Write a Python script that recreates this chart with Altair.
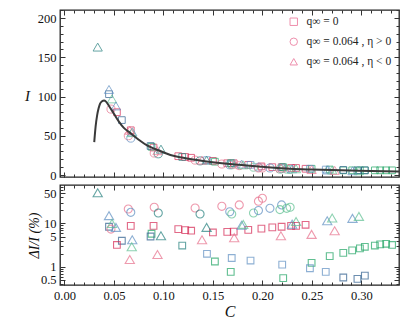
import altair as alt
import pandas as pd

FONT = "Liberation Serif"

# ---------------- model curve ----------------
curve_C = [0.0301, 0.0315, 0.033, 0.0345, 0.036, 0.038, 0.040, 0.042, 0.045, 0.050,
           0.055, 0.060, 0.066, 0.075, 0.083, 0.090, 0.100, 0.107, 0.120, 0.140,
           0.167, 0.200, 0.228, 0.250, 0.280, 0.310, 0.338]
curve_I = [42, 62, 76, 85, 91, 94, 95, 93.5, 88, 78,
           68, 60, 54, 45, 38, 34, 29, 25.5, 22, 18,
           14, 10.5, 8, 7, 6, 5.3, 4.6]

# ---------------- squares: q_inf = 0 ----------------
sq_C = [0.045, 0.058, 0.053, 0.067, 0.090, 0.088, 0.087, 0.115, 0.122, 0.128,
        0.119, 0.144, 0.150, 0.152, 0.1645, 0.171, 0.169, 0.168, 0.1857, 0.188,
        0.199, 0.210, 0.2194, 0.220, 0.221, 0.229, 0.234, 0.2436, 0.2497, 0.248,
        0.268, 0.264, 0.2817, 0.2907, 0.2985, 0.3035, 0.3136, 0.319, 0.325, 0.331,
        0.2817, 0.296, 0.3035]
sq_I = [103, 70, 80, 57, 35, 36, 37, 24, 23, 22,
        23, 19, 18, 17, 15, 15, 15, 15, 13, 13,
        11, 10, 10, 10, 10, 9, 9, 8, 8, 8,
        7, 7, 6, 6, 6, 6, 6, 6, 6, 6,
        6.5, 6, 6]
sq_dI = [8.4, 4.0, 3.2, 8.8, 8.8, 5.8, 5.0, 7.4, 7.0, 6.8,
         3.1, 2.0, 6.2, 1.33, 6.4, 6.5, 1.6, 0.77, 7.1, 1.4,
         7.6, 8.1, 8.4, 1.13, 0.55, 8.8, 8.8, 9.3, 1.24, 0.93,
         1.77, 0.77, 2.1, 2.4, 2.67, 2.9, 3.1, 3.3, 3.4, 3.2,
         0.57, 0.53, 0.63]
sq_col = ["dblue", "dblue", "red", "red", "red", "green", "dblue", "red", "red", "red",
          "teal", "blue", "red", "green", "red", "red", "blue", "green", "red", "blue",
          "red", "red", "red", "blue", "green", "red", "red", "red", "green", "blue",
          "green", "blue", "green", "green", "green", "green", "green", "green", "green", "green",
          "dblue", "dblue", "dblue"]

# ---------------- circles: q_inf = 0.064, eta > 0 ----------------
ci_C = [0.047, 0.0645, 0.067, 0.0907, 0.0948, 0.132, 0.137, 0.159, 0.167, 0.169,
        0.1766, 0.191, 0.196, 0.196, 0.200, 0.2076, 0.2194, 0.2177, 0.2245, 0.228]
ci_I = [84, 50, 47, 28, 27, 19, 18, 14, 13, 13,
        12, 10, 10, 9, 9, 9, 8, 7.5, 7.5, 7]
ci_dI = [7.4, 21.5, 18, 23.6, 17.4, 22.7, 16.5, 24.8, 18.6, 16.5,
         26.7, 17.4, 19.8, 32.5, 38, 22.3, 26.7, 20.8, 22.3, 23.6]
ci_col = ["pink", "pink", "blue", "pink", "teal", "pink", "teal", "pink", "blue", "lgreen",
          "pink", "lgreen", "blue", "pink", "pink", "blue", "blue", "lgreen", "lgreen", "lgreen"]

# ---------------- triangles: q_inf = 0.064, eta < 0 ----------------
tr_C = [0.0336, 0.045, 0.048, 0.052, 0.0685, 0.068, 0.066, 0.0975, 0.094, 0.1436,
        0.139, 0.1715, 0.179, 0.1806, 0.2187, 0.230, 0.234, 0.2497, 0.2655, 0.2705,
        0.273, 0.291, 0.2975]
tr_I = [163, 109, 97, 88, 55, 54, 57, 33, 31, 19,
        19, 14, 14, 13, 9, 8, 8, 7, 6.5, 6.5,
        6, 5.5, 5.5]
tr_dI = [50.7, 15.1, 10, 8.1, 4.2, 2.9, 1.48, 5.2, 1.93, 8.1,
         4.2, 4.7, 9.1, 9.5, 5.2, 9.6, 11.1, 5.6, 11.5, 13.3,
         6.8, 13.1, 14.5]
tr_col = ["teal", "blue", "lgreen", "blue", "blue", "lgreen", "pink", "teal", "pink", "teal",
          "pink", "pink", "blue", "lgreen", "pink", "blue", "lgreen", "pink", "blue", "lgreen",
          "pink", "blue", "lgreen"]

SERIES = ["q\u221e = 0", "q\u221e = 0.064 , \u03b7 > 0", "q\u221e = 0.064 , \u03b7 < 0"]
SHAPES = ["square", "circle", "triangle-up"]
SIZES = [45, 85, 50]
COL_KEYS = ["red", "pink", "blue", "dblue", "teal", "green", "lgreen"]
COL_HEX = ["#d62a55", "#e8708c", "#5f8fc2", "#2f5f8e", "#25807e", "#1fa463", "#5fc092"]

X_TICKS = [0.0, 0.05, 0.10, 0.15, 0.20, 0.25, 0.30]
X_MINOR = [round(0.01 * i, 2) for i in range(0, 34)]
TOP_TICKS = [0, 50, 100, 150, 200]
TOP_MINOR = list(range(0, 211, 10))
BOT_TICKS = [0.5, 1, 5, 10, 50]
BOT_MINOR = [0.4, 0.6, 0.7, 0.8, 0.9, 2, 3, 4, 6, 7, 8, 9, 20, 30, 40, 60, 70]

X_DOM = [-0.0045, 0.338]
TOP_DOM = [-2.5, 210.2]
BOT_DOM = [0.383, 76.7]
W, H1, H2 = 339, 167, 100

rows = []
for s, Cs, Is, ds, cs in [(SERIES[0], sq_C, sq_I, sq_dI, sq_col),
                          (SERIES[1], ci_C, ci_I, ci_dI, ci_col),
                          (SERIES[2], tr_C, tr_I, tr_dI, tr_col)]:
    for c, i, d, col in zip(Cs, Is, ds, cs):
        rows.append({"C": c, "I": i, "dI": d, "series": s, "col": col})
df = pd.DataFrame(rows)
curve_df = pd.DataFrame({"C": curve_C, "I": curve_I})


def axis(orient, values, size, labels=False, **kw):
    return alt.Axis(orient=orient, values=values, tickSize=size, offset=-size,
                    domain=False, grid=False, labels=labels, ticks=True,
                    tickColor="#333333", tickWidth=1, labelFont=FONT,
                    labelFontSize=12.5, labelColor="#111111", labelPadding=4,
                    titleFont=FONT, titleFontWeight="normal", titleColor="#111111",
                    **kw)


def sx():
    return alt.Scale(domain=X_DOM, nice=False, zero=False)


def sy_top():
    return alt.Scale(domain=TOP_DOM, nice=False, zero=False)


def sy_bot():
    return alt.Scale(type="log", domain=BOT_DOM, nice=False)


shape_enc_legend = alt.Shape(
    "series:N", scale=alt.Scale(domain=SERIES, range=SHAPES),
    legend=alt.Legend(orient="none", legendX=228, legendY=6, title=None,
                      labelFont=FONT, labelFontSize=11.5, labelColor="#222222",
                      symbolStrokeColor="#e8608a", symbolFillColor="transparent",
                      symbolSize=55, symbolStrokeWidth=1, rowPadding=7,
                      labelOffset=7, padding=0))
shape_enc_plain = alt.Shape("series:N", scale=alt.Scale(domain=SERIES, range=SHAPES), legend=None)
color_enc = alt.Color("col:N", scale=alt.Scale(domain=COL_KEYS, range=COL_HEX), legend=None)
size_enc = alt.Size("series:N", scale=alt.Scale(domain=SERIES, range=SIZES), legend=None)

# ---------------- top panel ----------------
pts_top = alt.Chart(df).mark_point(filled=False, strokeWidth=1, clip=True).encode(
    x=alt.X("C:Q", scale=sx(), axis=axis("bottom", X_MINOR, 3, title=None)),
    y=alt.Y("I:Q", scale=sy_top(), axis=axis("left", TOP_MINOR, 3, title=None)),
    shape=shape_enc_legend, color=color_enc, size=size_enc)

curve = alt.Chart(curve_df).mark_line(color="#3a3a3a", strokeWidth=2, clip=True,
                                      interpolate="monotone").encode(
    x=alt.X("C:Q", scale=sx(), axis=axis("bottom", X_TICKS, 5, title=None)),
    y=alt.Y("I:Q", scale=sy_top(), axis=axis(
        "left", TOP_TICKS, 5, labels=True, title="I", titleFontStyle="italic",
        titleFontSize=15, titleAngle=0, titleX=-38, titleY=85,
        titleAlign="center", titleBaseline="middle")))

top_maj = alt.Chart(curve_df).mark_point(opacity=0).encode(
    x=alt.X("C:Q", scale=sx(), axis=axis("top", X_TICKS, 5, title=None)),
    y=alt.Y("I:Q", scale=sy_top(), axis=axis("right", TOP_TICKS, 5, title=None)))
top_min = alt.Chart(curve_df).mark_point(opacity=0).encode(
    x=alt.X("C:Q", scale=sx(), axis=axis("top", X_MINOR, 3, title=None)),
    y=alt.Y("I:Q", scale=sy_top(), axis=axis("right", TOP_MINOR, 3, title=None)))

top = alt.layer(pts_top, curve, top_maj, top_min).resolve_axis(
    x="independent", y="independent").properties(width=W, height=H1)

# ---------------- bottom panel ----------------
pts_bot = alt.Chart(df).mark_point(filled=False, strokeWidth=1.1, clip=True).encode(
    x=alt.X("C:Q", scale=sx(), axis=axis(
        "bottom", X_TICKS, 5, labels=True, title="C", titleFontStyle="italic",
        titleFontSize=16, titlePadding=2, format=".2f")),
    y=alt.Y("dI:Q", scale=sy_bot(), axis=axis(
        "left", BOT_TICKS, 5, labels=True, format="~g", title="\u0394I/I (%)",
        titleFontStyle="italic", titleFontSize=14, titleAngle=270, titleX=-31,
        titleY=50, titleAlign="center", titleBaseline="middle")),
    shape=shape_enc_plain, color=color_enc, size=size_enc)

bot_min = alt.Chart(df).mark_point(opacity=0).encode(
    x=alt.X("C:Q", scale=sx(), axis=axis("bottom", X_MINOR, 3, title=None)),
    y=alt.Y("dI:Q", scale=sy_bot(), axis=axis("left", BOT_MINOR, 3, title=None)))
bot_maj_r = alt.Chart(df).mark_point(opacity=0).encode(
    x=alt.X("C:Q", scale=sx(), axis=axis("top", X_TICKS, 5, title=None)),
    y=alt.Y("dI:Q", scale=sy_bot(), axis=axis("right", BOT_TICKS, 5, title=None)))
bot_min_r = alt.Chart(df).mark_point(opacity=0).encode(
    x=alt.X("C:Q", scale=sx(), axis=axis("top", X_MINOR, 3, title=None)),
    y=alt.Y("dI:Q", scale=sy_bot(), axis=axis("right", BOT_MINOR, 3, title=None)))

bottom = alt.layer(pts_bot, bot_min, bot_maj_r, bot_min_r).resolve_axis(
    x="independent", y="independent").properties(width=W, height=H2)

chart = alt.vconcat(top, bottom, spacing=8, bounds="flush").resolve_scale(
    x="independent", y="independent").resolve_legend(
    shape="independent").properties(
    padding={"left": 15, "top": 0, "right": 0, "bottom": 0},
    background="white").configure_view(stroke="#222222", strokeWidth=1.3)

chart.save("out.html", embed_options={"renderer": "svg", "actions": False})
